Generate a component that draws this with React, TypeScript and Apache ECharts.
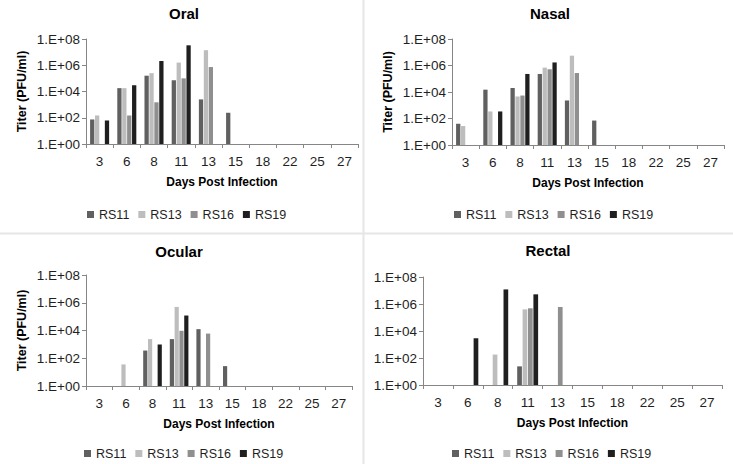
import React, { useEffect, useRef } from 'react';
import * as echarts from 'echarts';

// ---------- data ----------
const days = ['3', '6', '8', '11', '13', '15', '18', '22', '25', '27'];
const seriesNames = ['RS11', 'RS13', 'RS16', 'RS19'];
const seriesColors = ['#606060', '#bdbdbd', '#8f8f8f', '#1f1f1f'];
const panelTitles = ['Oral', 'Nasal', 'Ocular', 'Rectal'];
const yAxisTitle = 'Titer (PFU/ml)';
const xAxisTitle = 'Days Post Infection';

const oralRS11 = [74, 1.8e4, 1.6e5, 7.2e4, 2500, 240, null, null, null, null];
const oralRS13 = [149, 1.8e4, 2.5e5, 1.6e6, 1.4e7, null, null, null, null, null];
const oralRS16 = [null, 150, 1500, 1.0e5, 7.3e5, null, null, null, null, null];
const oralRS19 = [62, 3.0e4, 2.1e6, 3.3e7, null, null, null, null, null, null];

const nasalRS11 = [40, 1.5e4, 2.0e4, 2.3e5, 2300, 70, null, null, null, null];
const nasalRS13 = [27, 340, 4600, 6.9e5, 5.5e6, null, null, null, null, null];
const nasalRS16 = [null, null, 5400, 5.2e5, 2.7e5, null, null, null, null, null];
const nasalRS19 = [null, 340, 2.3e5, 1.7e6, null, null, null, null, null, null];

const ocularRS11 = [null, null, 360, 2400, 1.25e4, 27, null, null, null, null];
const ocularRS13 = [null, 36, 2400, 5.0e5, null, null, null, null, null, null];
const ocularRS16 = [null, null, null, 9500, 6000, null, null, null, null, null];
const ocularRS19 = [null, null, 980, 1.2e5, null, null, null, null, null, null];

const rectalRS11 = [null, null, null, 24, null, null, null, null, null, null];
const rectalRS13 = [null, null, 180, 4.0e5, null, null, null, null, null, null];
const rectalRS16 = [null, null, null, 4.8e5, 6.0e5, null, null, null, null, null];
const rectalRS19 = [null, 2900, 1.2e7, 5.2e6, null, null, null, null, null, null];

const panelData = [
  [oralRS11, oralRS13, oralRS16, oralRS19],
  [nasalRS11, nasalRS13, nasalRS16, nasalRS19],
  [ocularRS11, ocularRS13, ocularRS16, ocularRS19],
  [rectalRS11, rectalRS13, rectalRS16, rectalRS19],
];

// ---------- layout ----------
const FONT = '"Liberation Sans", Arial, sans-serif';
const layouts = [
  { grid: { left: 86, top: 39, width: 272, height: 105 }, titleX: 184, titleTop: 6, legendLeft: 87, legendTop: 208, showYName: true },
  { grid: { left: 452, top: 39, width: 272, height: 106 }, titleX: 550, titleTop: 6, legendLeft: 454, legendTop: 208, showYName: true },
  { grid: { left: 86, top: 275, width: 266, height: 111 }, titleX: 179, titleTop: 244, legendLeft: 84, legendTop: 447, showYName: true },
  { grid: { left: 423, top: 277, width: 299, height: 108 }, titleX: 548, titleTop: 243, legendLeft: 452, legendTop: 447, showYName: false },
];

function expLabel(v: number): string {
  const e = Math.round(Math.log10(v));
  return '1.E+' + String(e).padStart(2, '0');
}

export default function App() {
  const ref = useRef<HTMLDivElement>(null);
  useEffect(() => {
    if (!ref.current) return;
    const chart = echarts.init(ref.current, undefined, { renderer: 'svg' });
    const axisColor = '#868686';
    const textColor = '#1f1f1f';

    const option: any = {
      animation: false,
      backgroundColor: '#ffffff',
      title: layouts.map((l, i) => ({
        text: panelTitles[i],
        left: l.titleX,
        top: l.titleTop,
        textAlign: 'center',
        padding: 0,
        textStyle: { fontFamily: FONT, fontSize: 15, fontWeight: 'bold', color: '#000' },
      })),
      legend: layouts.map((l) => ({
        data: seriesNames,
        left: l.legendLeft,
        top: l.legendTop,
        padding: 0,
        icon: 'rect',
        itemWidth: 7,
        itemHeight: 7,
        itemGap: 9,
        selectedMode: false,
        textStyle: { fontFamily: FONT, fontSize: 12.5, color: textColor },
      })),
      grid: layouts.map((l) => ({ ...l.grid, containLabel: false })),
      xAxis: layouts.map((l, i) => ({
        type: 'category',
        gridIndex: i,
        data: days,
        boundaryGap: true,
        name: xAxisTitle,
        nameLocation: 'middle',
        nameGap: 32,
        nameTextStyle: { fontFamily: FONT, fontSize: 12, fontWeight: 'bold', color: '#000' },
        axisLine: { show: true, lineStyle: { color: axisColor, width: 1 } },
        axisTick: { show: true, alignWithLabel: false, length: 4, lineStyle: { color: axisColor } },
        axisLabel: { margin: 10, fontFamily: FONT, fontSize: 13.5, color: textColor, interval: 0 },
        splitLine: { show: false },
      })),
      yAxis: layouts.map((l, i) => ({
        type: 'log',
        logBase: 10,
        gridIndex: i,
        min: 1,
        max: 1e8,
        interval: 2,
        name: l.showYName ? yAxisTitle : '',
        nameLocation: 'middle',
        nameGap: 58,
        nameRotate: 90,
        nameTextStyle: { fontFamily: FONT, fontSize: 12.5, fontWeight: 'bold', color: '#000' },
        axisLine: { show: true, lineStyle: { color: axisColor, width: 1 } },
        axisTick: { show: true, length: 4, lineStyle: { color: axisColor } },
        axisLabel: { margin: 6, fontFamily: FONT, fontSize: 13.5, color: textColor, formatter: expLabel },
        splitLine: { show: false },
        minorTick: { show: false },
      })),
      series: panelData.flatMap((group, p) =>
        group.map((values, s) => ({
          type: 'bar',
          name: seriesNames[s],
          xAxisIndex: p,
          yAxisIndex: p,
          data: values,
          barCategoryGap: '30%',
          barGap: '15%',
          itemStyle: { color: seriesColors[s] },
          emphasis: { disabled: true },
        }))
      ),
      graphic: [
        { type: 'line', shape: { x1: 363.5, y1: 0, x2: 363.5, y2: 464 }, style: { stroke: '#e6e6e6', lineWidth: 2 }, silent: true },
        { type: 'line', shape: { x1: 0, y1: 233.5, x2: 733, y2: 233.5 }, style: { stroke: '#e6e6e6', lineWidth: 2 }, silent: true },
      ],
    };
    chart.setOption(option);
    return () => chart.dispose();
  }, []);
  return <div ref={ref} style={{ position: 'fixed', left: 0, top: 0, width: 733, height: 464 }} />;
}
